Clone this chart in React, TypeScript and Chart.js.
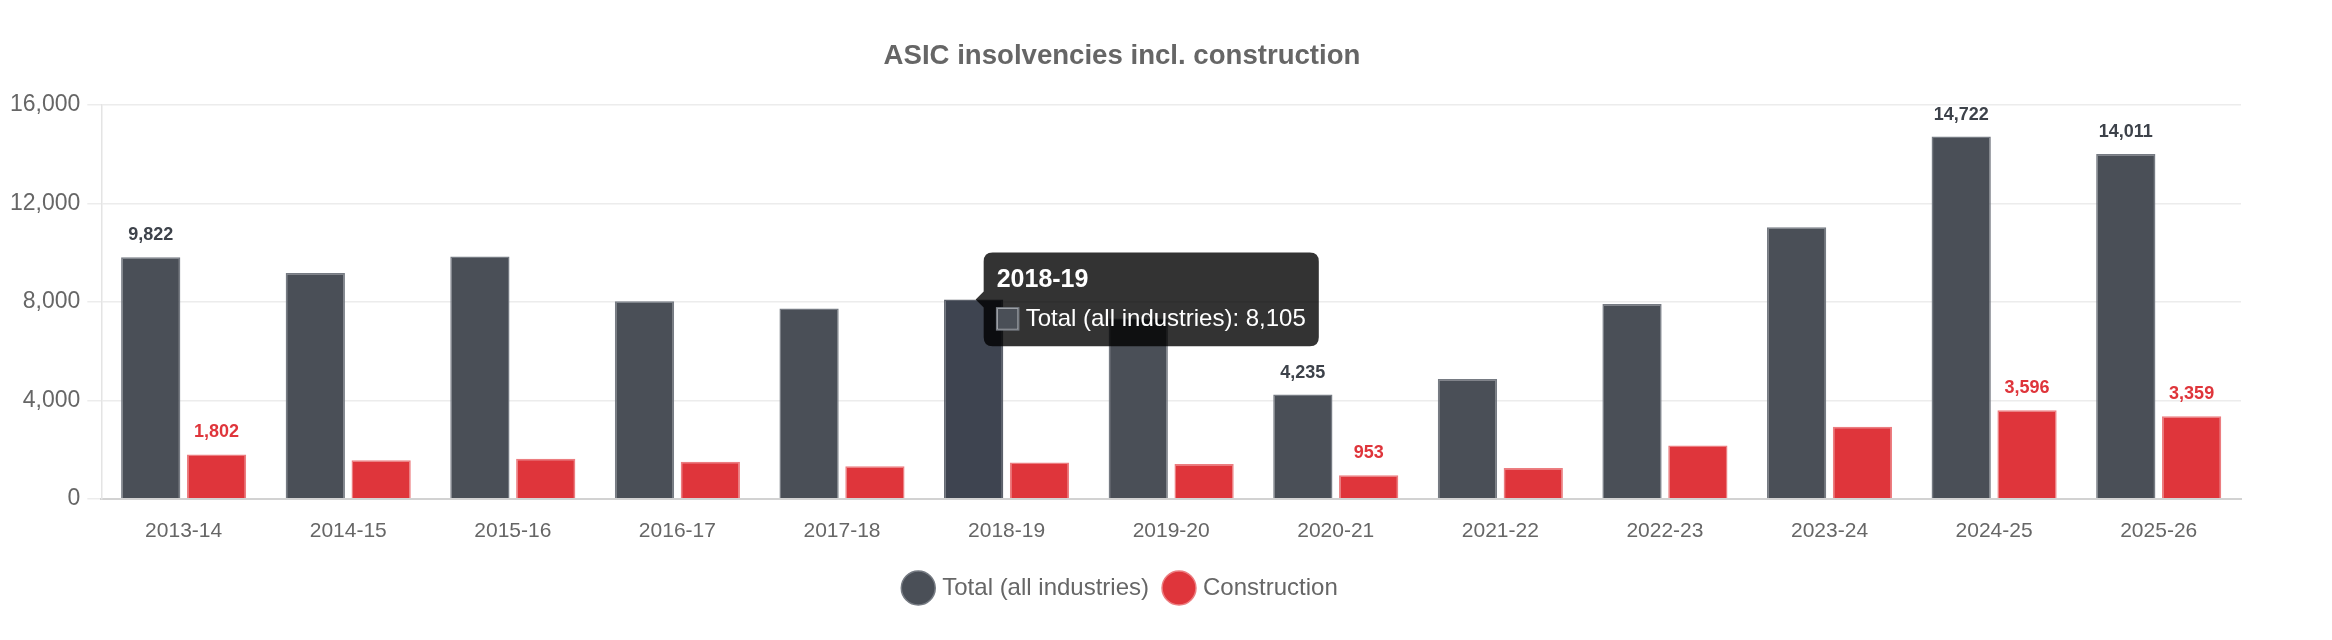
import React, { useEffect, useRef } from 'react';
import { Chart, registerables } from 'chart.js';

Chart.register(...registerables);

// financial years on the x axis
const years = [
    '2013-14', '2014-15', '2015-16', '2016-17', '2017-18', '2018-19', '2019-20',
    '2020-21', '2021-22', '2022-23', '2023-24', '2024-25', '2025-26',
];
const totalValues = [9822, 9180, 9850, 8030, 7730, 8105, 7330, 4235, 4870, 7920, 11040, 14722, 14011];
const constructionValues = [1802, 1570, 1630, 1510, 1320, 1476, 1410, 953, 1250, 2170, 2930, 3596, 3359];
// years that carry a value label above the bars
const labelledYears = ['2013-14', '2020-21', '2024-25', '2025-26'];
const yTicks = [0, 4000, 8000, 12000, 16000];
const hoverYear = '2018-19';

const FONT = "'Liberation Sans', Arial, Helvetica, sans-serif";

const valueLabels = {
    id: 'valueLabels',
    afterDatasetsDraw(chart: Chart) {
        const { ctx } = chart;
        ctx.save();
        ctx.font = `bold 18px ${FONT}`;
        ctx.textAlign = 'center';
        ctx.textBaseline = 'middle';
        chart.data.datasets.forEach((ds: any, di: number) => {
            const meta = chart.getDatasetMeta(di);
            meta.data.forEach((el: any, i: number) => {
                if (!labelledYears.includes(years[i])) return;
                const v = ds.data[i] as number;
                ctx.fillStyle = ds.labelColor;
                ctx.fillText(v.toLocaleString('en-US'), el.x, el.y - 22);
            });
        });
        ctx.restore();
    },
};

const App: React.FC = () => {
    const chartRef = useRef<HTMLCanvasElement>(null);
    const chartInstance = useRef<Chart | null>(null);

    useEffect(() => {
        if (!chartRef.current) return;
        if (chartInstance.current) chartInstance.current.destroy();

        const chart = new Chart(chartRef.current, {
            type: 'bar',
            data: {
                labels: years,
                datasets: [
                    {
                        label: 'Total (all industries)',
                        data: totalValues,
                        backgroundColor: '#4a4f57',
                        borderColor: '#767b83',
                        hoverBackgroundColor: '#3e4450',
                        hoverBorderColor: '#5b606a',
                        borderWidth: 1.5,
                        labelColor: '#3d424a',
                    } as any,
                    {
                        label: 'Construction',
                        data: constructionValues,
                        backgroundColor: '#df353b',
                        borderColor: '#ec7d80',
                        borderWidth: 1.5,
                        labelColor: '#df353b',
                    } as any,
                ],
            },
            options: {
                responsive: true,
                maintainAspectRatio: false,
                animation: false,
                events: [],
                layout: { padding: { left: 3, right: 6, top: 0, bottom: 30 } },
                scales: {
                    x: {
                        grid: { display: false, drawTicks: false },
                        border: { color: '#d2d2d2', width: 2 },
                        ticks: { color: '#666', font: { family: FONT, size: 21 }, padding: 20 },
                        afterFit: (scale: any) => {
                            scale.height -= 6;
                        },
                    },
                    y: {
                        min: 0,
                        max: yTicks[yTicks.length - 1],
                        afterBuildTicks: (scale: any) => {
                            scale.ticks = yTicks.map((v) => ({ value: v }));
                        },
                        grid: { color: '#ececec', lineWidth: 1.5, tickLength: 14 },
                        border: { color: '#e4e4e4', width: 1.5 },
                        ticks: {
                            color: '#666',
                            font: { family: FONT, size: 23 },
                            padding: 7,
                            callback: (v: any) => Number(v).toLocaleString('en-US'),
                        },
                    },
                },
                plugins: {
                    title: {
                        display: true,
                        text: 'ASIC insolvencies incl. construction',
                        color: '#666',
                        font: { family: FONT, size: 27.6, weight: 'bold' },
                        padding: { top: 40, bottom: 32 },
                    },
                    legend: {
                        position: 'bottom',
                        labels: {
                            usePointStyle: true,
                            pointStyle: 'circle',
                            color: '#666',
                            font: { family: FONT, size: 24 },
                            padding: 18,
                        },
                    },
                    tooltip: {
                        backgroundColor: 'rgba(0,0,0,0.8)',
                        titleFont: { family: FONT, size: 25, weight: 'bold' },
                        bodyFont: { family: FONT, size: 24 },
                        titleMarginBottom: 9,
                        padding: 13,
                        cornerRadius: 9,
                        caretSize: 8,
                        xAlign: 'left',
                        yAlign: 'center',
                        boxWidth: 22,
                        boxHeight: 22,
                        boxPadding: 5,
                    },
                },
            },
            plugins: [valueLabels],
        });

        const idx = years.indexOf(hoverYear);
        const el: any = chart.getDatasetMeta(0).data[idx];
        chart.setActiveElements([{ datasetIndex: 0, index: idx }]);
        chart.tooltip?.setActiveElements([{ datasetIndex: 0, index: idx }], { x: el.x, y: el.y });
        chart.update();

        chartInstance.current = chart;
        return () => {
            chart.destroy();
            chartInstance.current = null;
        };
    }, []);

    return (
        <div style={{ position: 'absolute', left: 0, top: 0, width: 2247, height: 640 }}>
            <canvas ref={chartRef} />
        </div>
    );
};

export default App;
